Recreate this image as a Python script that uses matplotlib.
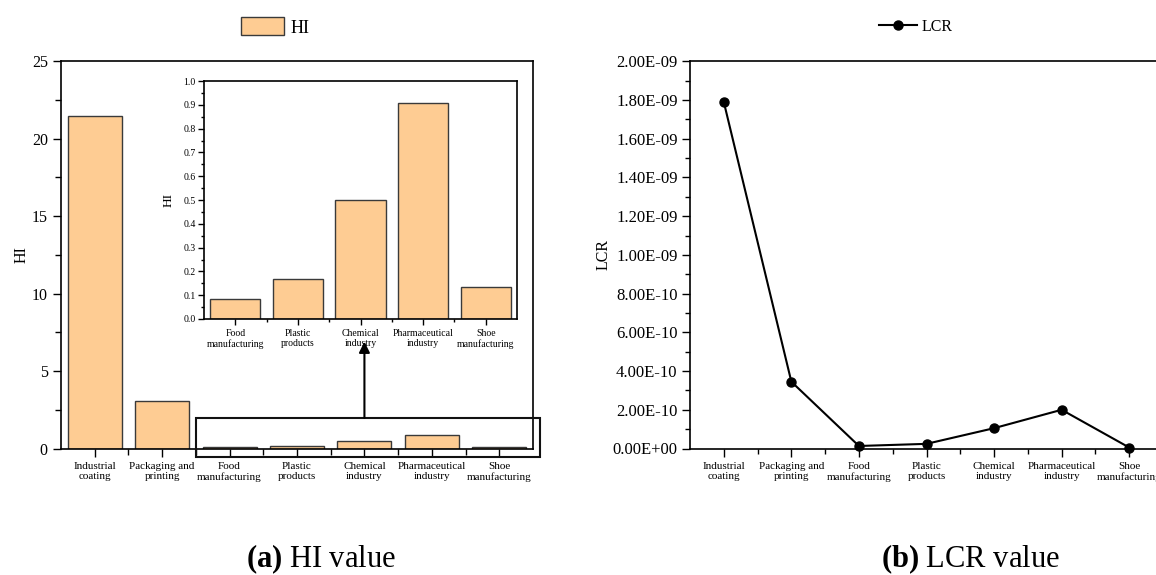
import numpy as np
import matplotlib
matplotlib.use("Agg")
import matplotlib.pyplot as plt
from matplotlib.patches import Rectangle
from matplotlib.ticker import MultipleLocator, FixedLocator, FuncFormatter

plt.rcParams['font.family'] = ['Liberation Serif', 'DejaVu Serif']
plt.rcParams['mathtext.fontset'] = 'custom'
plt.rcParams['mathtext.rm'] = 'Liberation Serif'
plt.rcParams['mathtext.bf'] = 'Liberation Serif:bold'

categories = ["Industrial\ncoating", "Packaging and\nprinting", "Food\nmanufacturing",
              "Plastic\nproducts", "Chemical\nindustry", "Pharmaceutical\nindustry",
              "Shoe\nmanufacturing"]
hi_values = [21.45, 3.1, 0.083, 0.167, 0.502, 0.906, 0.133]
lcr_values = [1.79e-9, 3.45e-10, 1.3e-11, 2.4e-11, 1.05e-10, 2.0e-10, 5e-12]
zoom_start = 2   # first category shown in the inset

bar_color = '#FECC93'
edge_color = '#3a3a3a'
W, H = 1156, 575

fig = plt.figure(figsize=(W / 100, H / 100), dpi=100)


def style_ticks(a, major_len, minor_len, width=1.0):
    a.tick_params(which='major', direction='out', length=major_len, width=width)
    a.tick_params(which='minor', direction='out', length=minor_len, width=width)
    a.tick_params(top=False, right=False, which='both')
    for s in a.spines.values():
        s.set_linewidth(1.2)


# ---- (a) HI bars ----
x = np.arange(len(categories))
ax = fig.add_axes([61 / W, 1 - 448.7 / H, 472 / W, 387.7 / H])
ax.bar(x, hi_values, width=0.8, color=bar_color, edgecolor=edge_color, linewidth=1.0,
       label='HI', zorder=2)
ax.set_xlim(-0.5, len(categories) - 0.5)
ax.set_ylim(0, 25)
ax.yaxis.set_major_locator(MultipleLocator(5))
ax.yaxis.set_minor_locator(MultipleLocator(2.5))
ax.set_xticks(x)
ax.set_xticklabels(categories, fontsize=8, linespacing=1.15)
ax.xaxis.set_minor_locator(FixedLocator(x[:-1] + 0.5))
ax.tick_params(axis='y', labelsize=11.5)
style_ticks(ax, 6, 4)
ax.set_ylabel('HI', fontsize=11.5, labelpad=1.5)
ax.legend(loc='center', bbox_to_anchor=(275 / W, 1 - 27 / H), bbox_transform=fig.transFigure,
          frameon=False, fontsize=13, handlelength=2.4, handleheight=1.15, handletextpad=0.35)

# zoom box around the small bars
rect = Rectangle((zoom_start - 0.5, -0.54), len(categories) - zoom_start + 0.1, 2.52,
                 fill=False, edgecolor='#111111', linewidth=1.5, clip_on=False, zorder=5)
ax.add_patch(rect)

# inset
xi = np.arange(len(categories) - zoom_start)
ins = fig.add_axes([204 / W, 1 - 319 / H, 313 / W, 238 / H])
ins.bar(xi, hi_values[zoom_start:], width=0.8, color=bar_color, edgecolor=edge_color,
        linewidth=1.0, zorder=2)
ins.set_xlim(-0.5, len(xi) - 0.5)
ins.set_ylim(0, 1.0)
ins.yaxis.set_major_locator(MultipleLocator(0.1))
ins.yaxis.set_minor_locator(MultipleLocator(0.05))
ins.yaxis.set_major_formatter(FuncFormatter(lambda v, p: f"{v:.1f}"))
ins.set_xticks(xi)
ins.set_xticklabels(categories[zoom_start:], fontsize=7, linespacing=1.15)
ins.xaxis.set_minor_locator(FixedLocator(xi[:-1] + 0.5))
ins.tick_params(axis='y', labelsize=7, pad=2)
style_ticks(ins, 4, 2.5)
ins.set_ylabel('HI', fontsize=9.5, labelpad=6)

# arrow from the zoom box up to the inset
ins.annotate('', xy=(4, 6.9), xycoords=ax.transData, xytext=(4, 1.98), textcoords=ax.transData,
             arrowprops=dict(arrowstyle='-|>', color='black', lw=1.5, mutation_scale=16,
                             shrinkA=0, shrinkB=0),
             annotation_clip=False, zorder=10)

# ---- (b) LCR line ----
bx = fig.add_axes([690 / W, 1 - 448.5 / H, 473 / W, 387.2 / H])
bx.plot(x, lcr_values, color='black', lw=1.5, marker='o', markersize=6.5, label='LCR',
        clip_on=False, zorder=3)
bx.set_xlim(-0.5, len(categories) - 0.5)
bx.set_ylim(0, 2e-9)
bx.yaxis.set_major_locator(MultipleLocator(2e-10))
bx.yaxis.set_minor_locator(MultipleLocator(1e-10))
bx.yaxis.set_major_formatter(FuncFormatter(lambda v, p: f"{v:.2E}"))
bx.yaxis.get_offset_text().set_visible(False)
bx.set_xticks(x)
bx.set_xticklabels(categories, fontsize=8, linespacing=1.15)
bx.xaxis.set_minor_locator(FixedLocator(x[:-1] + 0.5))
bx.tick_params(axis='y', labelsize=12, pad=3)
style_ticks(bx, 6, 3.5)
bx.set_ylabel('LCR', fontsize=11.5, labelpad=1)
bx.legend(loc='center', bbox_to_anchor=(916 / W, 1 - 27 / H), bbox_transform=fig.transFigure,
          frameon=False, fontsize=11.5, handlelength=2.4, handletextpad=0.3)

# captions
fig.text(321 / W, 8 / H, r'$\mathbf{(a)}$ HI value', ha='center', va='baseline', fontsize=22)
fig.text(970 / W, 8 / H, r'$\mathbf{(b)}$ LCR value', ha='center', va='baseline', fontsize=22)

fig.savefig('out.png', dpi=100)
